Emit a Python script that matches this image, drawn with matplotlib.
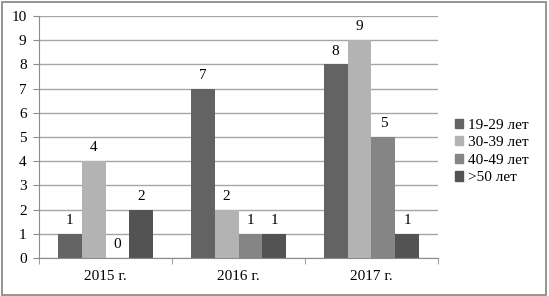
import matplotlib

matplotlib.use("Agg")
import matplotlib.pyplot as plt
import numpy as np
from matplotlib.patches import Rectangle

YEARS = ["2015 г.", "2016 г.", "2017 г."]
GROUPS = ["19-29 лет", "30-39 лет", "40-49 лет", ">50 лет"]
VALUES = [
    [1, 7, 8],  # 19-29
    [4, 2, 9],  # 30-39
    [0, 1, 5],  # 40-49
    [2, 1, 1],  # >50
]
COLORS = ["#636363", "#b3b3b3", "#858585", "#535353"]

plt.rcParams["font.family"] = ["Liberation Serif", "DejaVu Serif"]
plt.rcParams["font.size"] = 11

W, H = 549, 296
fig = plt.figure(figsize=(W / 100, H / 100), dpi=100)
# outer frame like the office chart area
fig.patches.append(
    Rectangle((0.003, 0.004), 0.992, 0.99, transform=fig.transFigure,
              fill=False, edgecolor="#8c8c8c", linewidth=1.3)
)

left, right, top, bottom = 39, 438, 16, 258
ax = fig.add_axes([left / W, 1 - bottom / H, (right - left) / W, (bottom - top) / H])

x = np.arange(len(YEARS))
bar_w = 0.18
for i, (name, vals) in enumerate(zip(GROUPS, VALUES)):
    pos = x + (i - 1.5) * bar_w
    ax.bar(pos, vals, width=bar_w, color=COLORS[i], label=name, zorder=2)
    for px, v in zip(pos, vals):
        ax.text(px, v + 0.28, str(v), ha="center", va="bottom", fontsize=11,
                zorder=3, bbox=dict(facecolor="white", edgecolor="none", pad=1.5))

ax.set_xlim(-0.5, len(YEARS) - 0.5)
ax.set_ylim(0, 10)
ax.set_yticks(range(0, 11))
ax.yaxis.grid(True, color="#a6a6a6", linewidth=1.0, zorder=0)
ax.set_axisbelow(True)
ax.set_xticks(x)
ax.set_xticklabels(YEARS)
ax.set_xticks(np.arange(len(YEARS) + 1) - 0.5, minor=True)
ax.tick_params(axis="x", which="major", length=0, pad=9)
ax.tick_params(axis="x", which="minor", length=4, color="#8c8c8c", direction="out")
ax.tick_params(axis="y", length=4, color="#8c8c8c", direction="out", pad=5)
for side in ("top", "right"):
    ax.spines[side].set_visible(False)
for side in ("left", "bottom"):
    ax.spines[side].set_color("#8c8c8c")

handles = [Rectangle((0, 0), 1, 1, color=c) for c in COLORS]
fig.legend(handles, GROUPS, loc="upper left", bbox_to_anchor=(447 / W, 1 - 111 / H),
           frameon=False, handlelength=0.55, handleheight=0.55, handletextpad=0.35,
           labelspacing=0.3, borderpad=0, fontsize=11)

fig.savefig("out.png", dpi=100)
